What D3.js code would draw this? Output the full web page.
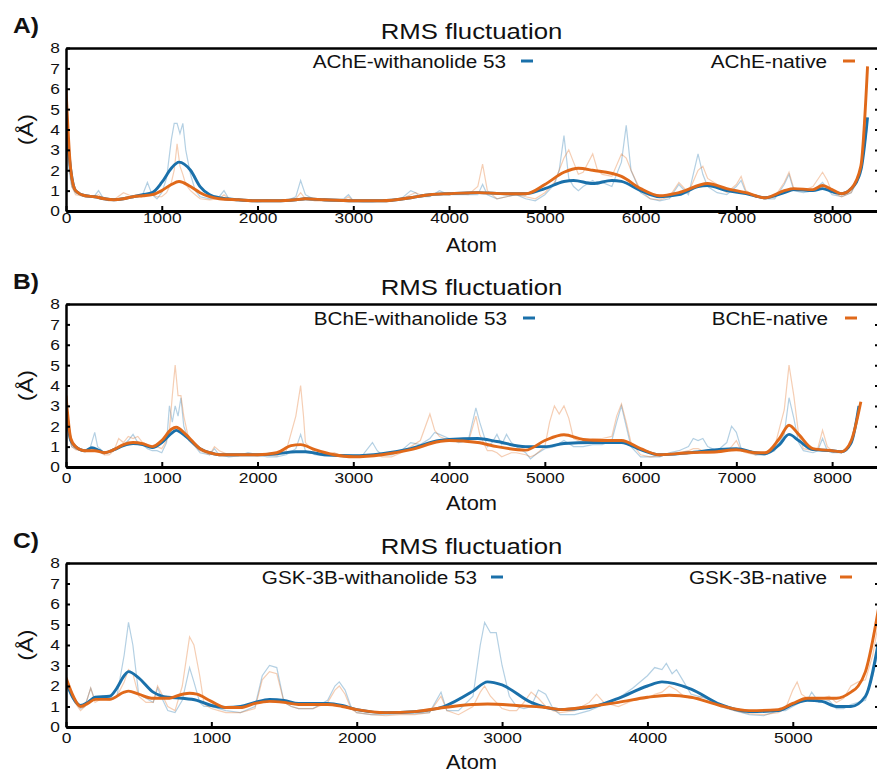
<!DOCTYPE html>
<html><head><meta charset="utf-8">
<script src="https://cdn.jsdelivr.net/npm/d3@7"></script>
<style>
body{margin:0;background:#fff}
svg{display:block;background:#fff}
text{font-family:"Liberation Sans",Arial,Helvetica,sans-serif;fill:#111}
</style>
</head><body>
<svg id="chart" width="877" height="772"></svg>
<script>
// ---------------- DATA ----------------
const panelLabels = ["A)", "B)", "C)"];
const titles = ["RMS fluctuation", "RMS fluctuation", "RMS fluctuation"];
const ligandNames = ["AChE-withanolide 53", "BChE-withanolide 53", "GSK-3B-withanolide 53"];
const nativeNames = ["AChE-native", "BChE-native", "GSK-3B-native"];
const xAxisTitle = "Atom";
const yAxisTitle = "(Å)";
const xMax = [8500, 8500, 5600];
const xTicksAB = [0, 1000, 2000, 3000, 4000, 5000, 6000, 7000, 8000];
const xTicksC = [0, 1000, 2000, 3000, 4000, 5000];
const yTicks = [0, 1, 2, 3, 4, 5, 6, 7, 8];

// Panel A – smoothed
const smoothLigA = [[0,4.5],[50,2.0],[100,1.0],[200,0.75],[300,0.7],[400,0.6],[500,0.55],[600,0.6],[700,0.7],[800,0.8],[900,0.9],[1000,1.4],[1100,2.1],[1180,2.4],[1300,2.0],[1400,1.2],[1500,0.8],[1600,0.65],[1800,0.55],[2000,0.5],[2200,0.5],[2400,0.55],[2500,0.6],[2700,0.55],[3000,0.5],[3300,0.5],[3600,0.65],[3800,0.8],[4000,0.85],[4300,0.9],[4600,0.85],[4800,0.85],[5000,1.1],[5200,1.45],[5300,1.5],[5500,1.35],[5700,1.5],[5800,1.45],[6000,1.0],[6200,0.7],[6400,0.8],[6600,1.2],[6700,1.25],[6900,1.0],[7100,0.85],[7300,0.65],[7500,0.9],[7600,1.05],[7800,1.0],[7900,1.1],[8000,0.95],[8100,0.85],[8200,1.1],[8300,2.0],[8370,4.6]];
const smoothNatA = [[0,6.0],[50,2.0],[100,1.0],[200,0.75],[300,0.7],[400,0.6],[500,0.55],[600,0.6],[700,0.7],[800,0.75],[900,0.8],[1000,1.0],[1100,1.3],[1180,1.45],[1300,1.2],[1400,0.9],[1500,0.7],[1600,0.6],[1800,0.55],[2000,0.5],[2200,0.5],[2400,0.55],[2500,0.6],[2700,0.55],[3000,0.5],[3300,0.5],[3600,0.65],[3800,0.8],[4000,0.85],[4300,0.9],[4600,0.85],[4800,0.85],[5000,1.3],[5200,1.9],[5350,2.1],[5500,2.0],[5800,1.7],[6000,1.1],[6200,0.75],[6400,0.9],[6700,1.35],[6900,1.1],[7100,0.9],[7300,0.65],[7500,1.0],[7600,1.1],[7800,1.05],[7900,1.25],[8000,1.05],[8100,0.85],[8200,1.1],[8300,2.2],[8370,7.1]];
// Panel A – raw
const rawLigA = [[0,4.5],[30,2.0],[60,1.2],[100,0.9],[150,0.8],[200,0.8],[250,0.7],[300,0.75],[340,1.0],[380,0.7],[450,0.55],[500,0.55],[600,0.6],[700,0.7],[800,0.8],[850,1.4],[900,0.8],[950,0.6],[1000,0.9],[1050,1.6],[1100,3.5],[1130,4.3],[1160,4.3],[1190,3.8],[1220,4.3],[1250,3.0],[1300,1.8],[1350,1.0],[1400,0.7],[1500,0.6],[1600,0.7],[1650,1.0],[1700,0.6],[1800,0.5],[1900,0.5],[2000,0.45],[2100,0.5],[2200,0.5],[2300,0.5],[2400,0.7],[2450,1.5],[2500,0.8],[2600,0.55],[2700,0.5],[2800,0.5],[2900,0.6],[2950,0.8],[3000,0.5],[3100,0.45],[3200,0.45],[3300,0.5],[3400,0.5],[3500,0.6],[3600,1.0],[3650,0.9],[3700,0.7],[3800,0.7],[3900,1.0],[4000,0.8],[4100,0.8],[4200,0.8],[4300,0.8],[4350,1.3],[4400,0.8],[4500,0.6],[4600,0.7],[4700,0.8],[4800,0.6],[4900,0.5],[5000,0.8],[5100,1.3],[5150,2.0],[5200,3.7],[5250,1.6],[5300,1.2],[5350,1.0],[5400,1.2],[5500,1.5],[5550,1.3],[5600,1.4],[5700,1.2],[5800,2.4],[5850,4.2],[5900,2.0],[6000,0.9],[6100,0.6],[6200,0.5],[6300,0.6],[6400,1.3],[6500,0.8],[6600,2.8],[6650,1.8],[6700,1.2],[6800,0.9],[6900,0.8],[7000,1.2],[7050,1.5],[7100,0.9],[7200,0.7],[7300,0.6],[7400,0.6],[7500,1.3],[7550,1.8],[7600,1.0],[7700,0.9],[7800,1.0],[7900,1.4],[7950,1.1],[8000,0.8],[8100,0.7],[8200,0.9],[8300,1.8],[8370,4.2]];
const rawNatA = [[0,5.5],[30,2.5],[60,1.2],[100,0.8],[150,0.75],[200,0.7],[250,0.7],[300,0.7],[340,0.8],[380,0.6],[450,0.5],[500,0.55],[600,0.9],[700,0.7],[800,0.7],[850,0.8],[900,0.8],[950,0.7],[1000,0.7],[1050,0.9],[1100,1.4],[1130,2.0],[1160,3.3],[1190,2.2],[1220,1.8],[1250,1.3],[1300,1.0],[1350,0.8],[1400,0.6],[1500,0.55],[1600,0.6],[1650,0.8],[1700,0.6],[1800,0.55],[1900,0.55],[2000,0.5],[2100,0.55],[2200,0.5],[2300,0.55],[2400,0.6],[2450,0.9],[2500,0.6],[2600,0.5],[2700,0.5],[2800,0.5],[2900,0.55],[2950,0.7],[3000,0.5],[3100,0.5],[3200,0.5],[3300,0.5],[3400,0.55],[3500,0.6],[3600,0.8],[3650,0.9],[3700,0.8],[3800,0.8],[3900,0.9],[4000,0.9],[4100,0.85],[4200,0.8],[4300,1.2],[4350,2.3],[4400,1.0],[4500,0.6],[4600,0.7],[4700,0.8],[4800,0.7],[4900,0.6],[5000,0.9],[5100,1.4],[5150,2.0],[5200,2.6],[5250,3.0],[5300,2.4],[5350,1.8],[5400,1.9],[5500,2.8],[5550,2.0],[5600,1.8],[5700,1.7],[5800,2.8],[5850,2.6],[5900,2.0],[6000,1.0],[6100,0.6],[6200,0.55],[6300,0.7],[6400,1.4],[6500,0.9],[6600,2.0],[6650,2.2],[6700,1.6],[6800,1.3],[6900,0.9],[7000,1.3],[7050,1.7],[7100,1.0],[7200,0.7],[7300,0.6],[7400,0.7],[7500,1.4],[7550,1.9],[7600,1.1],[7700,1.0],[7800,1.2],[7900,1.9],[7950,1.5],[8000,0.9],[8100,0.7],[8200,0.9],[8300,2.0],[8370,6.8]];

// Panel B – smoothed
const smoothLigB = [[0,3.0],[50,1.3],[100,1.0],[200,0.8],[270,0.95],[350,0.8],[400,0.7],[500,0.85],[600,1.05],[700,1.15],[800,1.1],[900,0.95],[1000,1.2],[1100,1.65],[1150,1.8],[1250,1.5],[1400,0.9],[1500,0.7],[1600,0.6],[2000,0.6],[2200,0.65],[2400,0.75],[2500,0.75],[2700,0.6],[3000,0.55],[3300,0.65],[3600,0.9],[3900,1.3],[4000,1.35],[4300,1.4],[4500,1.25],[4800,1.0],[5000,1.0],[5200,1.15],[5500,1.2],[5800,1.2],[6000,0.85],[6200,0.6],[6500,0.7],[6800,0.85],[7000,0.9],[7200,0.7],[7300,0.65],[7450,1.1],[7550,1.6],[7650,1.3],[7800,0.85],[8000,0.8],[8100,0.75],[8200,1.2],[8280,3.0]];
const smoothNatB = [[0,3.5],[50,1.4],[100,1.0],[200,0.8],[300,0.8],[400,0.7],[500,0.85],[600,1.1],[700,1.2],[800,1.15],[900,1.0],[1000,1.3],[1100,1.85],[1150,1.95],[1250,1.6],[1400,0.9],[1500,0.7],[1600,0.6],[2000,0.6],[2200,0.7],[2350,1.05],[2450,1.1],[2600,0.85],[2800,0.6],[3000,0.5],[3300,0.6],[3600,0.85],[3900,1.25],[4000,1.3],[4300,1.2],[4500,1.0],[4800,0.83],[5000,1.3],[5200,1.58],[5400,1.35],[5600,1.3],[5800,1.3],[6000,0.9],[6200,0.6],[6500,0.7],[6800,0.75],[7000,0.85],[7200,0.7],[7300,0.7],[7450,1.4],[7550,2.05],[7650,1.6],[7800,0.9],[8000,0.8],[8100,0.75],[8200,1.3],[8300,3.2]];
// Panel B – raw
const rawLigB = [[0,3.0],[30,1.6],[60,1.0],[100,0.9],[150,0.8],[200,0.8],[250,0.9],[300,1.7],[330,1.0],[400,0.7],[450,0.7],[500,0.8],[550,1.0],[600,1.1],[650,1.3],[700,1.6],[750,1.2],[800,1.1],[850,0.9],[900,0.8],[950,0.8],[1000,0.7],[1050,1.2],[1080,3.0],[1110,2.2],[1140,3.0],[1170,2.5],[1200,3.4],[1230,2.0],[1280,1.3],[1350,1.0],[1400,0.7],[1500,0.6],[1550,0.9],[1600,0.6],[1700,0.5],[1800,0.55],[1900,0.7],[2000,0.6],[2100,0.5],[2200,0.5],[2300,0.6],[2400,0.9],[2450,1.6],[2500,0.8],[2600,0.6],[2700,0.55],[2800,0.55],[2900,0.5],[3000,0.5],[3100,0.6],[3200,1.2],[3250,0.8],[3300,0.6],[3400,0.6],[3500,0.8],[3600,1.2],[3700,1.1],[3800,1.4],[3850,1.7],[3900,1.6],[4000,1.4],[4100,1.2],[4200,1.3],[4280,2.9],[4320,2.2],[4400,1.0],[4450,1.2],[4500,1.6],[4550,1.1],[4600,1.6],[4650,1.2],[4700,1.0],[4800,0.7],[4850,0.4],[4900,0.6],[5000,0.9],[5100,1.0],[5200,1.3],[5300,1.0],[5400,1.0],[5500,1.1],[5600,1.1],[5700,1.3],[5750,2.2],[5800,3.0],[5850,2.0],[5900,1.0],[6000,0.5],[6100,0.5],[6200,0.5],[6300,0.7],[6400,0.8],[6500,1.0],[6550,1.4],[6600,1.3],[6650,1.4],[6700,1.0],[6800,0.8],[6900,1.2],[6950,2.0],[7000,1.7],[7050,0.9],[7100,0.8],[7200,0.6],[7300,0.6],[7400,0.8],[7500,1.6],[7550,3.4],[7600,2.4],[7650,1.2],[7700,0.8],[7800,0.7],[7850,0.8],[7900,1.4],[7950,0.8],[8000,0.7],[8100,0.7],[8200,1.1],[8280,3.0]];
const rawNatB = [[0,3.5],[30,1.5],[60,1.0],[100,0.85],[150,0.8],[200,0.75],[250,0.8],[300,0.9],[330,0.8],[400,0.6],[450,0.6],[500,0.8],[550,1.4],[600,1.2],[650,1.5],[700,1.4],[750,1.5],[800,1.2],[850,1.1],[900,0.9],[950,1.0],[1000,0.9],[1050,1.3],[1080,1.8],[1110,3.5],[1140,5.0],[1170,3.5],[1200,3.5],[1230,2.5],[1280,1.4],[1350,1.0],[1400,0.8],[1500,0.6],[1550,1.0],[1600,0.8],[1700,0.6],[1800,0.6],[1900,0.6],[2000,0.55],[2100,0.6],[2200,0.55],[2300,0.8],[2400,2.5],[2450,4.0],[2480,2.5],[2500,1.2],[2600,0.7],[2700,0.6],[2800,0.7],[2900,0.5],[3000,0.5],[3100,0.5],[3200,0.6],[3250,0.6],[3300,0.5],[3400,0.5],[3500,0.7],[3600,1.0],[3700,1.3],[3800,2.6],[3850,1.8],[3900,1.5],[4000,1.3],[4100,1.3],[4200,1.2],[4280,2.5],[4320,1.6],[4400,0.8],[4450,0.8],[4500,0.7],[4550,0.5],[4600,0.6],[4650,0.7],[4700,0.7],[4800,0.6],[4850,0.5],[4900,0.6],[5000,1.0],[5050,2.2],[5100,3.0],[5150,2.6],[5200,3.0],[5250,2.4],[5300,1.4],[5400,1.2],[5500,1.4],[5600,1.4],[5700,1.5],[5750,2.5],[5800,3.1],[5850,2.2],[5900,1.2],[6000,0.6],[6100,0.5],[6200,0.55],[6300,0.6],[6400,0.7],[6500,0.8],[6550,0.9],[6600,0.9],[6650,0.8],[6700,0.7],[6800,0.7],[6900,0.8],[6950,1.0],[7000,1.3],[7050,0.8],[7100,0.7],[7200,0.6],[7300,0.7],[7400,1.0],[7500,2.8],[7550,5.0],[7600,3.5],[7650,1.6],[7700,0.9],[7800,0.8],[7850,0.9],[7900,1.8],[7950,1.0],[8000,0.8],[8100,0.75],[8200,1.2],[8300,3.2]];

// Panel C – smoothed
const smoothLigC = [[0,2.2],[50,1.4],[100,1.05],[150,1.2],[200,1.45],[300,1.5],[350,1.9],[400,2.5],[430,2.7],[500,2.4],[600,1.7],[700,1.45],[800,1.4],[900,1.3],[1000,1.05],[1100,0.95],[1200,1.0],[1300,1.2],[1400,1.35],[1500,1.3],[1600,1.15],[1800,1.15],[1900,1.05],[2000,0.85],[2200,0.7],[2400,0.75],[2600,1.0],[2800,1.75],[2900,2.2],[3000,2.05],[3200,1.2],[3400,0.85],[3600,0.95],[3800,1.4],[4000,2.0],[4100,2.2],[4300,1.85],[4500,1.1],[4700,0.75],[4900,0.8],[5000,1.1],[5100,1.3],[5200,1.25],[5300,1.0],[5400,1.0],[5500,1.5],[5600,4.6]];
const smoothNatC = [[0,2.4],[50,1.5],[100,1.0],[150,1.15],[200,1.35],[300,1.35],[400,1.7],[430,1.75],[500,1.6],[600,1.4],[700,1.4],[800,1.6],[850,1.65],[900,1.6],[1000,1.25],[1100,0.95],[1200,0.95],[1300,1.15],[1400,1.25],[1500,1.2],[1600,1.1],[1800,1.1],[1900,1.0],[2000,0.85],[2200,0.7],[2400,0.75],[2600,0.95],[2800,1.1],[2900,1.12],[3100,1.05],[3300,0.95],[3400,0.85],[3600,1.0],[3800,1.2],[4000,1.45],[4150,1.55],[4300,1.45],[4500,1.05],[4700,0.8],[4900,0.85],[5000,1.15],[5100,1.4],[5200,1.4],[5300,1.4],[5400,1.7],[5450,2.0],[5500,2.7],[5600,6.2]];
// Panel C – raw
const rawLigC = [[0,2.2],[30,1.6],[60,1.2],[100,0.9],[130,1.0],[170,1.9],[200,1.3],[250,1.5],[300,1.4],[350,1.5],[400,3.5],[430,5.1],[460,4.0],[500,1.6],[550,1.4],[600,1.2],[630,1.9],[660,1.4],[700,0.8],[750,0.7],[800,1.3],[850,2.9],[880,2.2],[920,1.2],[950,1.0],[1000,1.0],[1050,0.9],[1100,0.8],[1200,0.7],[1300,1.0],[1350,2.5],[1400,3.0],[1450,2.9],[1500,1.2],[1550,1.0],[1600,0.9],[1700,0.9],[1800,1.3],[1850,2.0],[1880,2.2],[1920,1.8],[1960,1.0],[2000,0.7],[2100,0.6],[2200,0.6],[2300,0.65],[2400,0.65],[2500,0.7],[2580,1.7],[2620,0.8],[2700,0.8],[2800,1.5],[2850,4.0],[2880,5.1],[2920,4.6],[2960,4.6],[3000,3.0],[3050,1.5],[3100,1.0],[3150,0.9],[3200,1.0],[3250,1.8],[3300,1.6],[3350,0.9],[3400,0.6],[3500,0.6],[3600,0.8],[3700,1.1],[3800,1.4],[3900,1.9],[4000,2.5],[4050,2.9],[4100,2.8],[4130,3.1],[4170,2.6],[4200,2.8],[4250,2.2],[4300,1.6],[4400,1.4],[4450,1.3],[4500,1.0],[4600,0.8],[4700,0.6],[4800,0.55],[4900,0.8],[4950,0.8],[5000,1.0],[5050,1.2],[5100,1.3],[5130,1.7],[5180,1.2],[5250,1.3],[5300,0.9],[5350,0.9],[5400,1.1],[5450,1.2],[5500,1.3],[5550,2.5],[5600,4.0]];
const rawNatC = [[0,2.4],[30,1.7],[60,1.2],[100,0.8],[130,1.0],[170,1.9],[200,1.2],[250,1.4],[300,1.3],[350,1.5],[400,2.2],[430,2.8],[460,2.6],[500,1.5],[550,1.2],[600,1.2],[630,2.0],[660,1.6],[700,1.0],[750,0.8],[800,2.0],[850,4.4],[880,4.0],[920,2.5],[950,1.1],[1000,0.9],[1050,0.8],[1100,0.7],[1200,0.7],[1300,0.9],[1350,2.3],[1400,2.7],[1450,2.6],[1500,1.2],[1550,1.0],[1600,0.9],[1700,0.9],[1800,1.2],[1850,1.8],[1880,2.0],[1920,1.6],[1960,0.9],[2000,0.7],[2100,0.6],[2200,0.55],[2300,0.6],[2400,0.6],[2500,0.7],[2580,1.5],[2620,0.8],[2700,0.6],[2800,1.0],[2850,1.7],[2880,2.0],[2920,1.5],[2960,1.2],[3000,0.9],[3050,0.8],[3100,0.8],[3150,1.2],[3200,1.7],[3250,1.4],[3300,1.0],[3350,0.8],[3400,0.7],[3500,0.8],[3600,1.2],[3650,1.6],[3700,1.2],[3800,1.0],[3900,1.3],[4000,1.4],[4050,1.6],[4100,1.7],[4150,2.0],[4200,1.8],[4250,1.5],[4300,1.4],[4400,1.5],[4450,1.3],[4500,1.0],[4600,0.8],[4700,0.65],[4800,0.6],[4900,0.7],[4950,0.9],[5000,1.8],[5030,2.2],[5060,1.6],[5100,1.4],[5150,1.3],[5200,1.4],[5250,1.5],[5300,1.2],[5350,1.4],[5400,2.0],[5450,2.2],[5500,2.3],[5550,3.5],[5600,5.5]];

// ---------------- LAYOUT / STYLE ----------------
const SX = 1.12; // horizontal glyph stretch of the reference
const blue = "#1a70aa", orange = "#e0691a";
const layout = [
  {top:48, bottom:211, tickPad:1, atomDy:41, legY:61, leg1End:506, leg1Dash:521, leg2End:827, leg2Dash:843},
  {top:304, bottom:467, tickPad:5, atomDy:43, legY:318, leg1End:507, leg1Dash:523, leg2End:828, leg2Dash:845},
  {top:563, bottom:727, tickPad:5, atomDy:42, legY:577, leg1End:477, leg1Dash:491, leg2End:827, leg2Dash:840}
];
const left = 66, right = 880;
const series = [
  {rawL:rawLigA, rawN:rawNatA, smL:smoothLigA, smN:smoothNatA, ticks:xTicksAB},
  {rawL:rawLigB, rawN:rawNatB, smL:smoothLigB, smN:smoothNatB, ticks:xTicksAB},
  {rawL:rawLigC, rawN:rawNatC, smL:smoothLigC, smN:smoothNatC, ticks:xTicksC}
];

const svg = d3.select("#chart");
svg.append("rect").attr("width",877).attr("height",772).attr("fill","#fff");

function stretchText(sel){
  sel.each(function(){
    const t = d3.select(this);
    const x = +t.attr("x") || 0, y = +t.attr("y") || 0;
    t.attr("x",0).attr("y",0).attr("transform",`translate(${x},${y}) scale(${SX},1)`);
  });
}
function label(g, x, y, str, size, anchor, weight){
  return g.append("text").attr("transform",`translate(${x},${y}) scale(${SX},1)`)
    .attr("text-anchor",anchor||"start").attr("font-size",size).attr("font-weight",weight||"normal").text(str);
}

series.forEach((s,i)=>{
  const L = layout[i];
  const g = svg.append("g");
  const x = d3.scaleLinear().domain([0,xMax[i]]).range([left,right]);
  const y = d3.scaleLinear().domain([0,8]).range([L.bottom,L.top]);
  const clipId = "clip"+i;
  svg.append("clipPath").attr("id",clipId).append("rect")
     .attr("x",left).attr("y",L.top-20).attr("width",right-left).attr("height",L.bottom-L.top+20);

  const lineRaw = d3.line().x(d=>x(d[0])).y(d=>y(d[1]));
  const lineSm = d3.line().x(d=>x(d[0])).y(d=>y(d[1])).curve(d3.curveMonotoneX);
  const pg = g.append("g").attr("clip-path",`url(#${clipId})`);
  pg.append("path").datum(s.rawL).attr("d",lineRaw).attr("fill","none").attr("stroke",blue).attr("stroke-opacity",0.33).attr("stroke-width",1.2);
  pg.append("path").datum(s.rawN).attr("d",lineRaw).attr("fill","none").attr("stroke",orange).attr("stroke-opacity",0.33).attr("stroke-width",1.2);
  pg.append("path").datum(s.smL).attr("d",lineSm).attr("fill","none").attr("stroke",blue).attr("stroke-width",2.9);
  pg.append("path").datum(s.smN).attr("d",lineSm).attr("fill","none").attr("stroke",orange).attr("stroke-width",2.9);

  // axes
  const ax = g.append("g").attr("transform",`translate(0,${L.bottom})`)
    .call(d3.axisBottom(x).tickValues(s.ticks).tickFormat(d3.format("d")).tickSizeInner(-5).tickSizeOuter(0).tickPadding(L.tickPad));
  ax.select(".domain").attr("stroke-width",3);
  ax.selectAll(".tick line").attr("stroke-width",2);
  ax.selectAll("text").attr("font-size",15.5).attr("fill","#111").attr("font-family",null);
  stretchText(ax.selectAll("text"));

  const ay = g.append("g").attr("transform",`translate(${left},0)`)
    .call(d3.axisLeft(y).tickValues(yTicks).tickSizeInner(-4).tickSizeOuter(0).tickPadding(6));
  ay.select(".domain").attr("stroke-width",2.5);
  ay.selectAll(".tick line").attr("stroke-width",2);
  ay.selectAll("text").attr("font-size",15.5).attr("fill","#111").attr("font-family",null);
  stretchText(ay.selectAll("text"));

  const at = g.append("g").attr("transform",`translate(0,${L.top})`)
    .call(d3.axisTop(x).tickValues([]).tickSizeOuter(0));
  at.select(".domain").attr("stroke-width",2.5);

  const ar = g.append("g").attr("transform",`translate(${right},0)`)
    .call(d3.axisRight(y).tickValues(yTicks.slice(1,8)).tickFormat("").tickSizeInner(-5).tickSizeOuter(0));
  ar.select(".domain").attr("stroke-width",2.5);
  ar.selectAll(".tick line").attr("stroke-width",2);

  // texts
  label(g, 13, L.top-15, panelLabels[i], 22, "start", "bold");
  label(g, (left+877)/2, L.top-9, titles[i], 23, "middle");
  label(g, (left+877)/2, L.bottom+L.atomDy, xAxisTitle, 19.5, "middle");
  g.append("text").attr("transform",`translate(33,${(L.top+L.bottom)/2}) rotate(-90) scale(${SX},1)`)
    .attr("text-anchor","middle").attr("font-size",21).text(yAxisTitle);

  // legend
  label(g, L.leg1End, L.legY+7, ligandNames[i], 18.5, "end");
  g.append("line").attr("x1",L.leg1Dash).attr("x2",L.leg1Dash+12).attr("y1",L.legY).attr("y2",L.legY).attr("stroke",blue).attr("stroke-width",3);
  label(g, L.leg2End, L.legY+7, nativeNames[i], 18.5, "end");
  g.append("line").attr("x1",L.leg2Dash).attr("x2",L.leg2Dash+12).attr("y1",L.legY).attr("y2",L.legY).attr("stroke",orange).attr("stroke-width",3);
});
</script>
</body></html>
